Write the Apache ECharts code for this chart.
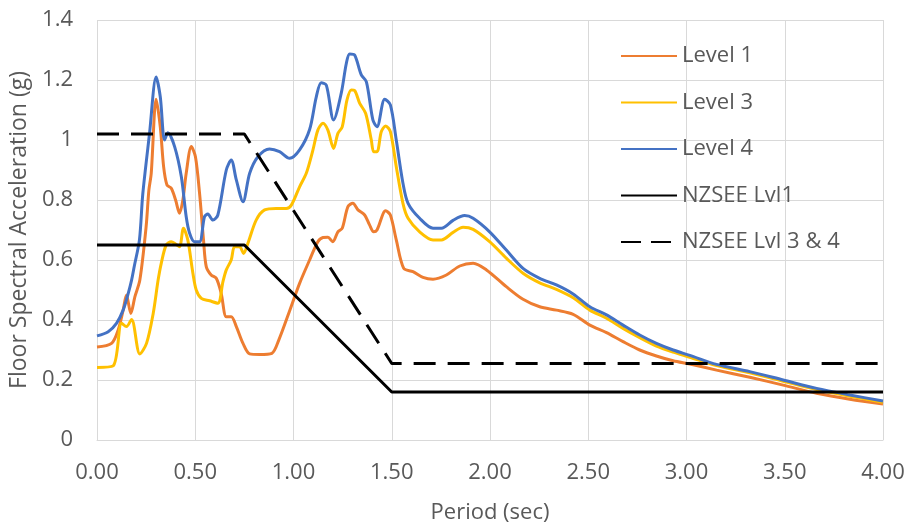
<!DOCTYPE html>
<html>
<head>
<meta charset="utf-8">
<script src="https://cdn.jsdelivr.net/npm/echarts@6/dist/echarts.min.js"></script>
<style>
  html, body { margin: 0; padding: 0; background: #fff; }
  #chart { width: 910px; height: 522px; }
</style>
</head>
<body>
<div id="chart"></div>
<script>
// periods (sec) and floor spectral accelerations (g)
const level1T = [0, 0.074, 0.108, 0.133, 0.15, 0.172, 0.193, 0.218, 0.25, 0.264, 0.276, 0.301, 0.322, 0.339, 0.356, 0.378, 0.4, 0.42, 0.437, 0.454, 0.48, 0.501, 0.522, 0.542, 0.556, 0.581, 0.607, 0.632, 0.658, 0.683, 0.709, 0.743, 0.777, 0.827, 0.89, 0.925, 0.98, 1.031, 1.082, 1.124, 1.15, 1.175, 1.2, 1.226, 1.248, 1.277, 1.302, 1.328, 1.362, 1.387, 1.408, 1.425, 1.469, 1.493, 1.523, 1.561, 1.608, 1.659, 1.71, 1.778, 1.846, 1.914, 1.982, 2.083, 2.168, 2.253, 2.338, 2.423, 2.508, 2.593, 2.677, 2.762, 2.847, 2.932, 3.017, 3.153, 3.322, 3.492, 3.662, 3.831, 4.0]
const level1Sa = [0.31, 0.322, 0.367, 0.433, 0.483, 0.422, 0.478, 0.533, 0.711, 0.833, 0.889, 1.136, 1.044, 0.911, 0.85, 0.839, 0.8, 0.756, 0.8, 0.889, 0.978, 0.944, 0.822, 0.667, 0.578, 0.55, 0.539, 0.489, 0.411, 0.411, 0.378, 0.322, 0.287, 0.285, 0.289, 0.333, 0.43, 0.522, 0.6, 0.661, 0.675, 0.676, 0.661, 0.694, 0.706, 0.778, 0.789, 0.767, 0.75, 0.717, 0.694, 0.7, 0.764, 0.75, 0.667, 0.572, 0.561, 0.542, 0.536, 0.55, 0.58, 0.589, 0.567, 0.511, 0.469, 0.444, 0.433, 0.419, 0.383, 0.358, 0.328, 0.3, 0.28, 0.264, 0.253, 0.233, 0.209, 0.183, 0.156, 0.136, 0.12]

const level3T = [0, 0.082, 0.125, 0.15, 0.176, 0.218, 0.252, 0.286, 0.311, 0.327, 0.352, 0.378, 0.4, 0.42, 0.44, 0.462, 0.488, 0.505, 0.531, 0.573, 0.615, 0.641, 0.658, 0.683, 0.7, 0.726, 0.746, 0.768, 0.81, 0.853, 0.912, 0.963, 0.989, 1.031, 1.065, 1.099, 1.124, 1.15, 1.175, 1.204, 1.226, 1.248, 1.272, 1.294, 1.311, 1.337, 1.367, 1.396, 1.408, 1.425, 1.447, 1.469, 1.493, 1.523, 1.557, 1.583, 1.642, 1.71, 1.753, 1.812, 1.863, 1.914, 1.998, 2.083, 2.168, 2.253, 2.338, 2.423, 2.508, 2.593, 2.677, 2.762, 2.847, 2.932, 3.017, 3.153, 3.322, 3.492, 3.662, 3.831, 4.0]
const level3Sa = [0.242, 0.247, 0.389, 0.378, 0.402, 0.287, 0.322, 0.422, 0.533, 0.589, 0.65, 0.661, 0.653, 0.644, 0.706, 0.667, 0.556, 0.5, 0.472, 0.464, 0.456, 0.528, 0.567, 0.6, 0.644, 0.644, 0.622, 0.656, 0.733, 0.767, 0.772, 0.772, 0.783, 0.844, 0.889, 0.967, 1.033, 1.056, 1.033, 0.972, 1.022, 1.044, 1.133, 1.167, 1.165, 1.122, 1.089, 1.0, 0.961, 0.961, 1.028, 1.047, 1.028, 0.911, 0.789, 0.739, 0.694, 0.667, 0.667, 0.692, 0.709, 0.702, 0.661, 0.606, 0.556, 0.524, 0.502, 0.474, 0.433, 0.406, 0.372, 0.341, 0.313, 0.293, 0.276, 0.248, 0.224, 0.196, 0.168, 0.146, 0.126]

const level4T = [0, 0.057, 0.099, 0.133, 0.159, 0.176, 0.19, 0.216, 0.233, 0.267, 0.301, 0.322, 0.344, 0.361, 0.395, 0.429, 0.454, 0.471, 0.496, 0.522, 0.547, 0.564, 0.59, 0.615, 0.658, 0.683, 0.709, 0.743, 0.777, 0.819, 0.878, 0.929, 0.98, 1.031, 1.082, 1.116, 1.141, 1.167, 1.204, 1.243, 1.269, 1.286, 1.311, 1.345, 1.371, 1.404, 1.425, 1.464, 1.493, 1.523, 1.557, 1.583, 1.642, 1.71, 1.753, 1.812, 1.871, 1.914, 1.998, 2.083, 2.168, 2.253, 2.338, 2.423, 2.508, 2.593, 2.677, 2.762, 2.847, 2.932, 3.017, 3.153, 3.322, 3.492, 3.662, 3.831, 4.0]
const level4Sa = [0.347, 0.361, 0.389, 0.433, 0.489, 0.533, 0.58, 0.667, 0.82, 1.02, 1.21, 1.144, 1.0, 1.024, 0.978, 0.878, 0.744, 0.69, 0.661, 0.661, 0.744, 0.753, 0.733, 0.75, 0.9, 0.933, 0.867, 0.794, 0.889, 0.944, 0.97, 0.961, 0.939, 0.967, 1.035, 1.144, 1.191, 1.183, 1.067, 1.156, 1.256, 1.287, 1.283, 1.217, 1.194, 1.067, 1.044, 1.136, 1.117, 1.0, 0.856, 0.789, 0.739, 0.706, 0.706, 0.732, 0.748, 0.739, 0.694, 0.633, 0.572, 0.539, 0.517, 0.487, 0.444, 0.417, 0.383, 0.35, 0.322, 0.3, 0.282, 0.252, 0.228, 0.2, 0.172, 0.15, 0.13]

// NZSEE design spectra
const nzLvl1T = [0, 0.75, 1.5, 4.0]
const nzLvl1Sa = [0.65, 0.65, 0.16, 0.16]
const nzLvl34T = [0, 0.75, 1.5, 4.0]
const nzLvl34Sa = [1.02, 1.02, 0.255, 0.255]

const zip = (xs, ys) => xs.map((x, i) => [x, ys[i]])

const font = '"Open Sans", "Liberation Sans", sans-serif'
const grey = '#595959'

let mychart = echarts.init(document.getElementById('chart'))

let option = {
  animation: false,
  backgroundColor: '#fff',
  textStyle: { fontFamily: font },
  grid: { left: 97, right: 27, top: 20, bottom: 82, outerBoundsMode: 'none' },
  legend: {
    orient: 'vertical',
    left: 620,
    top: 44,
    padding: 0,
    itemWidth: 56,
    itemHeight: 14,
    itemGap: 22.5,
    itemStyle: { opacity: 0 },
    textStyle: { fontSize: 22, color: grey, fontFamily: font, lineHeight: 24 },
    data: [
      'Level 1',
      'Level 3',
      'Level 4',
      'NZSEE Lvl1',
      { name: 'NZSEE Lvl 3 & 4', lineStyle: { type: [20, 10] } },
    ],
  },
  xAxis: {
    type: 'value',
    min: 0,
    max: 4,
    interval: 0.5,
    name: 'Period (sec)',
    nameLocation: 'middle',
    nameGap: 62,
    nameTextStyle: { fontSize: 22, color: grey },
    axisLine: { lineStyle: { color: '#d9d9d9' } },
    axisTick: { show: false },
    axisLabel: {
      fontSize: 22,
      color: grey,
      margin: 22,
      formatter: (v) => v.toFixed(2),
    },
    splitLine: { show: true, lineStyle: { color: '#d9d9d9' } },
  },
  yAxis: {
    type: 'value',
    min: 0,
    max: 1.4,
    interval: 0.2,
    name: 'Floor Spectral Acceleration (g)',
    nameLocation: 'middle',
    nameGap: 60,
    nameTextStyle: { fontSize: 23, color: grey },
    axisLine: { show: false },
    axisTick: { show: false },
    axisLabel: {
      fontSize: 22,
      color: grey,
      margin: 24,
      formatter: (v) => String(+v.toFixed(1)),
    },
    splitLine: { lineStyle: { color: '#d9d9d9' } },
  },
  series: [
    {
      name: 'Level 1',
      type: 'line',
      data: zip(level1T, level1Sa),
      symbol: 'none',
      smooth: 0.3,
      color: '#ED7D31',
      lineStyle: { width: 3 },
    },
    {
      name: 'Level 3',
      type: 'line',
      data: zip(level3T, level3Sa),
      symbol: 'none',
      smooth: 0.3,
      color: '#FFC000',
      lineStyle: { width: 3 },
    },
    {
      name: 'Level 4',
      type: 'line',
      data: zip(level4T, level4Sa),
      symbol: 'none',
      smooth: 0.3,
      color: '#4472C4',
      lineStyle: { width: 3 },
    },
    {
      name: 'NZSEE Lvl1',
      type: 'line',
      data: zip(nzLvl1T, nzLvl1Sa),
      symbol: 'none',
      color: '#000',
      lineStyle: { width: 3 },
    },
    {
      name: 'NZSEE Lvl 3 & 4',
      type: 'line',
      data: zip(nzLvl34T, nzLvl34Sa),
      symbol: 'none',
      color: '#000',
      lineStyle: { width: 3, type: [22, 12] },
    },
  ],
}
mychart.setOption(option, true)
</script>
</body>
</html>
